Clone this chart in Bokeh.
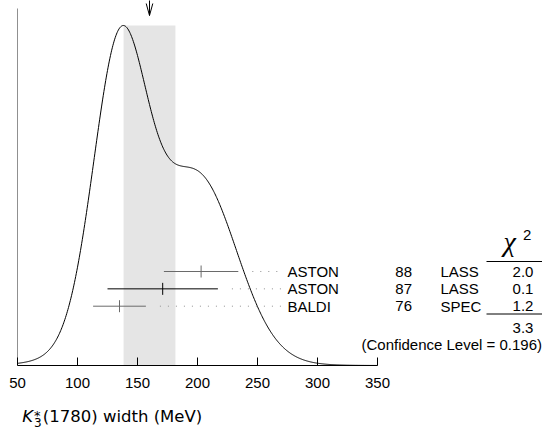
import numpy as np
from bokeh.plotting import figure
from bokeh.layouts import column
from bokeh.models import Range1d, FixedTicker
from bokeh.core.properties import value
from bokeh.embed import file_html
from bokeh.resources import INLINE

# ---------------- data ----------------
authors = ["ASTON", "ASTON", "BALDI"]
years = ["88", "87", "76"]
experiments = ["LASS", "LASS", "SPEC"]
widths = [203, 171, 135]          # MeV, central values
errors = [31, 46, 22]             # MeV
chi2 = ["2.0", "0.1", "1.2"]
chi2_total = "3.3"
confidence_level = "0.196"
average = 160                     # MeV (arrow / band centre)
average_err = 21.6                # MeV (band half-width)
x_ticks = [50, 100, 150, 200, 250, 300, 350]

# ---------------- layout ----------------
W = 542
H_MAIN, H_LABEL = 400, 30
LEFT, BOTTOM = 17, 35
PX = 1.2                          # pixels per MeV
X0 = 50
FRAME_W = W - LEFT
FRAME_H = H_MAIN - BOTTOM         # 365
X_END = X0 + FRAME_W / PX
PEAK = 340                        # curve height in px
TOTAL_H = H_MAIN + H_LABEL


def col(px):
    """canvas pixel x -> data x"""
    return X0 + (px - LEFT) / PX


def row_y(py):
    """canvas pixel y -> data y (1 unit = 1 px above axis)"""
    return FRAME_H - py


def mid(baseline_py, size):
    """pixel y of a text's middle anchor from its wanted baseline"""
    return baseline_py - 0.36 * size


bar_colors = ["#6a6a6a", "black", "#6a6a6a"]
ROW0 = 271.0
ROW_STEP = 17.35
rows = [row_y(ROW0 + i * ROW_STEP) for i in range(len(authors))]

FONT = value("Liberation Sans")
xr = Range1d(X0, X_END)

p = figure(width=W, height=H_MAIN,
           x_range=xr, y_range=Range1d(0, FRAME_H),
           output_backend="svg", toolbar_location=None,
           min_border_left=LEFT, min_border_right=0,
           min_border_top=0, min_border_bottom=BOTTOM,
           y_axis_location=None)
p.xgrid.visible = False
p.ygrid.visible = False
p.outline_line_color = None
p.background_fill_color = "white"
p.border_fill_color = "white"

# ideogram curve: each measurement a Gaussian of area 1/sigma
xs = np.linspace(x_ticks[0], x_ticks[-1], 601)
curve = np.zeros_like(xs)
for w, e in zip(widths, errors):
    curve += (1.0 / e) * np.exp(-0.5 * ((xs - w) / e) ** 2) / e
curve = curve / curve.max() * PEAK

# shaded band
p.quad(left=[average - average_err], right=[average + average_err],
       bottom=[0], top=[PEAK], fill_color="#e5e5e5", line_color=None)

p.line(xs, curve, line_color="black", line_width=1)

# left vertical line
p.segment(x0=[X0], y0=[0], x1=[X0], y1=[row_y(8)], line_color="#222222", line_width=1)

# arrow at the average
tip = row_y(15)
d = 3.3 / PX
p.segment(x0=[average, average - d, average + d],
          y0=[FRAME_H + 2, tip + 12, tip + 12],
          x1=[average, average, average],
          y1=[tip, tip, tip], line_color="black", line_width=1)

# measurements
label_x = col(287)
lefts = [w - e for w, e in zip(widths, errors)]
rights = [w + e for w, e in zip(widths, errors)]
p.segment(x0=lefts, y0=rows, x1=rights, y1=rows, line_color=bar_colors, line_width=1)
p.segment(x0=widths, y0=[r - 6 for r in rows], x1=widths, y1=[r + 6 for r in rows],
          line_color=bar_colors, line_width=1)
p.segment(x0=[r + 14 / PX for r in rights], y0=rows,
          x1=[label_x - 4 / PX] * len(rows), y1=rows,
          line_color="#909090", line_width=1, line_dash="1 7")

txt = dict(text_font=FONT, text_font_size="15px", text_color="black", text_baseline="middle")
p.text(x=[label_x] * 3, y=rows, text=authors, text_align="left", **txt)
p.text(x=[col(411.5)] * 3, y=rows, text=years, text_align="right", **txt)
p.text(x=[col(440)] * 3, y=rows, text=experiments, text_align="left", **txt)

CHI_C = col(522.5)
p.text(x=[CHI_C] * 3, y=rows, text=chi2, text_align="center", **txt)
p.text(x=[CHI_C], y=[row_y(327.5)], text=[chi2_total], text_align="center", **txt)
p.text(x=[col(541.5)], y=[row_y(343.5)],
       text=["(Confidence Level = %s)" % confidence_level], text_align="right", **txt)

# chi^2 header and rules
p.text(x=[col(503)], y=[row_y(mid(251, 28))], text=["χ"], text_align="left",
       text_baseline="middle", text_font=value("Liberation Serif"),
       text_font_style="italic", text_font_size="28px", text_color="black")
p.text(x=[col(522.5)], y=[row_y(mid(240.3, 15))], text=["2"], text_align="left", **txt)
p.segment(x0=[col(486), col(486)], y0=[row_y(261), row_y(313.5)],
          x1=[col(541.5), col(541.5)], y1=[row_y(261), row_y(313.5)],
          line_color="black", line_width=1)

# x axis
ax = p.xaxis[0]
ax.ticker = FixedTicker(ticks=x_ticks)
ax.bounds = (x_ticks[0], x_ticks[-1])
ax.minor_tick_line_color = None
ax.major_tick_in = 8
ax.major_tick_out = 0
ax.axis_line_color = "black"
ax.major_tick_line_color = "black"
ax.major_label_text_font = "Liberation Sans"
ax.major_label_text_font_size = "15px"
ax.major_label_text_color = "black"
ax.major_label_standoff = 12

# x axis title strip: K*_3(1780) width (MeV)
q = figure(width=W, height=H_LABEL, x_range=xr, y_range=Range1d(0, H_LABEL),
           output_backend="svg", toolbar_location=None,
           min_border_left=LEFT, min_border_right=0,
           min_border_top=0, min_border_bottom=0,
           x_axis_location=None, y_axis_location=None)
q.xgrid.visible = False
q.ygrid.visible = False
q.outline_line_color = None
q.background_fill_color = "white"
q.border_fill_color = "white"


def ly(baseline_py, size):
    return TOTAL_H - mid(baseline_py, size)


DV = value("DejaVu Sans")
lab = dict(text_font=DV, text_color="black", text_baseline="middle", text_align="left")
q.text(x=[col(21.7)], y=[ly(421.7, 16.5)], text=["K"], text_font_style="italic",
       text_font_size="16.5px", **lab)
q.text(x=[col(33.5)], y=[ly(419.5, 13)], text=["*"], text_font_size="13px", **lab)
q.text(x=[col(33.5)], y=[ly(426.5, 12)], text=["3"], text_font_size="12px", **lab)
q.text(x=[col(42.3)], y=[ly(421.7, 16.5)], text=["(1780) width (MeV)"],
       text_font_size="16.5px", **lab)

open("out.html", "w").write(file_html(column(p, q, spacing=0), INLINE))
